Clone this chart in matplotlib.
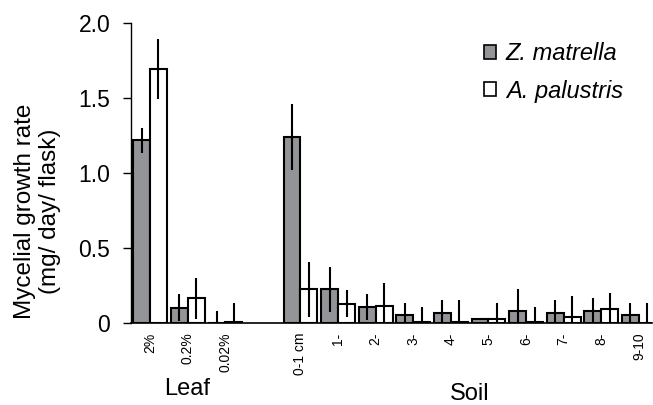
import numpy as np
import matplotlib.pyplot as plt
from matplotlib.patches import Patch
from matplotlib.transforms import blended_transform_factory

plt.rcParams['font.family'] = ['Liberation Sans', 'DejaVu Sans']

# categories (slot 3 is the empty gap between Leaf and Soil)
leaf_labels = ["2%", "0.2%", "0.02%"]
soil_labels = ["0-1 cm", "1-", "2-", "3-", "4-", "5-", "6-", "7-", "8-", "9-10"]

# Z. matrella
zm_leaf = [1.22, 0.105, 0.0]
zm_leaf_err = [0.085, 0.088, 0.082]
zm_soil = [1.245, 0.227, 0.107, 0.058, 0.069, 0.029, 0.082, 0.069, 0.080, 0.058]
zm_soil_err = [0.22, 0.15, 0.088, 0.075, 0.087, 0.008, 0.147, 0.087, 0.087, 0.075]

# A. palustris
ap_leaf = [1.695, 0.167, 0.010]
ap_leaf_err = [0.20, 0.137, 0.123]
ap_soil = [0.227, 0.131, 0.117, 0.010, 0.010, 0.029, 0.010, 0.042, 0.093, 0.0]
ap_soil_err = [0.185, 0.088, 0.150, 0.097, 0.145, 0.104, 0.097, 0.138, 0.111, 0.133]

labels = leaf_labels + soil_labels
x = np.array(list(range(3)) + list(range(4, 14)), dtype=float)
zm = zm_leaf + zm_soil
zm_err = zm_leaf_err + zm_soil_err
ap = ap_leaf + ap_soil
ap_err = ap_leaf_err + ap_soil_err

w = 0.45
gray = "#929497"

fig = plt.figure(figsize=(6.53, 4.05), dpi=100)
ax = fig.add_axes([0.2006, 0.2017, 0.798, 0.7408])

ax.bar(x - w / 2, zm, w, color=gray, edgecolor="black", linewidth=1.5, zorder=2)
ax.bar(x + w / 2, ap, w, color="white", edgecolor="black", linewidth=1.5, zorder=2)
ax.errorbar(x - w / 2, zm, yerr=zm_err, fmt="none", ecolor="black",
            elinewidth=1.5, capsize=0, zorder=3)
ax.errorbar(x + w / 2, ap, yerr=ap_err, fmt="none", ecolor="black",
            elinewidth=1.5, capsize=0, zorder=3)

ax.set_xlim(-0.505, 13.35)
ax.set_ylim(0, 2.0)
ax.set_yticks([0, 0.5, 1.0, 1.5, 2.0])
ax.set_yticklabels(["0", "0.5", "1.0", "1.5", "2.0"], fontsize=16.5)
ax.set_xticks(x)
ax.set_xticklabels(labels, rotation=90, fontsize=10, va="top")
ax.tick_params(axis="x", length=0, pad=6.5)
ax.tick_params(axis="y", direction="out", length=6, width=1, pad=9)
ax.spines["top"].set_visible(False)
ax.spines["right"].set_visible(False)
ax.spines["left"].set_linewidth(1)
ax.spines["bottom"].set_linewidth(1.2)

fig.text(37.5 / 653, 1 - 211.5 / 405, "Mycelial growth rate\n(mg/ day/ flask)",
         rotation=90, ha="center", va="center", multialignment="center",
         fontsize=17.5, linespacing=1.15)

tr = blended_transform_factory(ax.transData, fig.transFigure)
ax.text(1, 1 - 389 / 405, "Leaf", transform=tr, ha="center", va="center", fontsize=17)
ax.text(8.5, 1 - 394 / 405, "Soil", transform=tr, ha="center", va="center", fontsize=17)

handles = [Patch(facecolor=gray, edgecolor="black", linewidth=1.2),
           Patch(facecolor="white", edgecolor="black", linewidth=1.2)]
leg = fig.legend(handles, ["Z. matrella", "A. palustris"], loc="upper left",
                 bbox_to_anchor=(484 / 653, 1 - 42 / 405), frameon=False,
                 prop={"size": 17, "style": "italic"}, handlelength=0.52,
                 handleheight=0.52, handletextpad=0.4, labelspacing=0.62,
                 borderpad=0, borderaxespad=0)

plt.savefig("out.png", dpi=100)
